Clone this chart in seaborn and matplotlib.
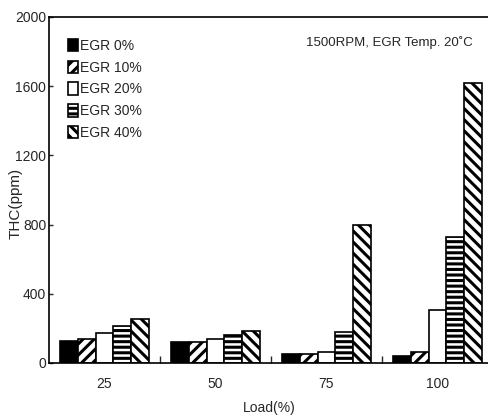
import matplotlib
matplotlib.use("Agg")
import matplotlib.pyplot as plt
import seaborn as sns
import pandas as pd
from matplotlib.patches import Patch

loads = ["25", "50", "75", "100"]
series = ["EGR 0%", "EGR 10%", "EGR 20%", "EGR 30%", "EGR 40%"]
egr0 = [130, 122, 50, 42]
egr10 = [140, 120, 50, 65]
egr20 = [175, 137, 65, 306]
egr30 = [215, 160, 177, 730]
egr40 = [252, 185, 800, 1620]
yticks = [0, 400, 800, 1200, 1600, 2000]

rows = []
for name, vals in zip(series, [egr0, egr10, egr20, egr30, egr40]):
    for l, v in zip(loads, vals):
        rows.append({"Load": l, "THC": v, "EGR": name})
df = pd.DataFrame(rows)

sns.set_style("ticks")
plt.rcParams["font.family"] = ["Liberation Sans", "DejaVu Sans"]
plt.rcParams["hatch.linewidth"] = 2.2
plt.rcParams["hatch.color"] = "black"

fig = plt.figure(figsize=(4.89, 4.2), dpi=100)
ax = fig.add_axes([49 / 489, 57 / 420, 444 / 489, 346 / 420])

sns.barplot(data=df, x="Load", y="THC", hue="EGR", order=loads, hue_order=series,
            width=0.8, ax=ax, legend=False, errorbar=None)

styles = [
    dict(facecolor="black", hatch=None),
    dict(facecolor="white", hatch="///"),
    dict(facecolor="white", hatch=None),
    dict(facecolor="white", hatch="---"),
    dict(facecolor="white", hatch="\\\\\\"),
]
for cont, st in zip(ax.containers, styles):
    for p in cont:
        p.set_facecolor(st["facecolor"])
        p.set_edgecolor("black")
        p.set_linewidth(1.2)
        if st["hatch"]:
            p.set_hatch(st["hatch"])

handles = [Patch(facecolor=st["facecolor"], edgecolor="black", hatch=st["hatch"], linewidth=1.2,
                 label=s) for st, s in zip(styles, series)]
ax.legend(handles=handles, loc="upper left", bbox_to_anchor=(0.03, 0.953), frameon=False,
          fontsize=10, handlelength=0.7, handleheight=1.0, handletextpad=0.2,
          labelspacing=0.56, borderaxespad=0)

ax.set_ylim(0, 2000)
ax.set_xlim(-0.5, 3.5)
ax.set_yticks(yticks)
ax.set_yticklabels([str(t) for t in yticks], fontsize=10)
ax.set_xticks([0, 1, 2, 3])
ax.set_xticklabels(loads, fontsize=10)
ax.set_xticks([0.5, 1.5, 2.5], minor=True)
ax.tick_params(axis="x", which="major", length=0, pad=10)
ax.tick_params(axis="x", which="minor", length=5, direction="in", width=1)
ax.tick_params(axis="y", length=3, direction="in", width=1, pad=2)
ax.set_xlabel("Load(%)", fontsize=10)
ax.set_ylabel("THC(ppm)", fontsize=11)
ax.xaxis.set_label_coords(0.495, -0.11)
ax.yaxis.set_label_coords(-0.06, 0.46)
ax.spines["right"].set_visible(False)
for s in ["left", "bottom", "top"]:
    ax.spines[s].set_linewidth(1.2)
    ax.spines[s].set_color("black")

ax.text(0.578, 0.925, "1500RPM, EGR Temp. 20\u02daC", transform=ax.transAxes, fontsize=9.5,
        ha="left", va="center")

fig.savefig("out.png", dpi=100)
